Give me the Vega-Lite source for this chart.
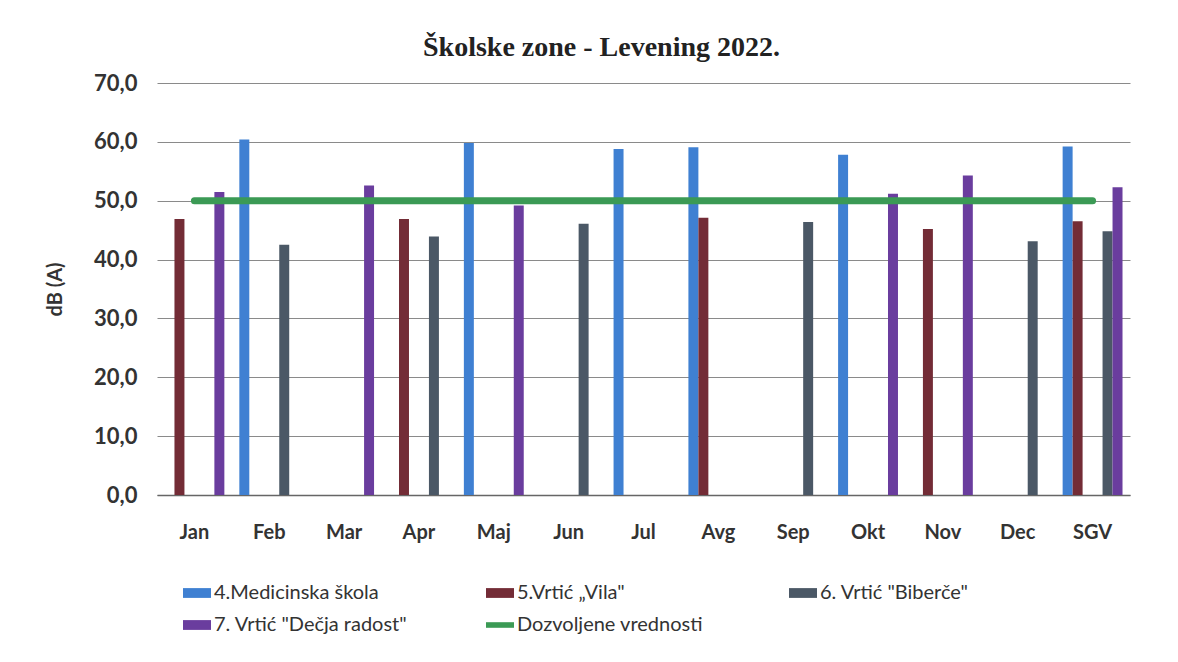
{
  "$schema": "https://vega.github.io/schema/vega-lite/v6.json",
  "autosize": "none",
  "width": 973,
  "height": 412,
  "padding": {"left": 157, "top": 83, "right": 48, "bottom": 167},
  "background": "#ffffff",
  "config": {
    "view": {"stroke": null},
    "font": "Lato"
  },
  "title": {
    "text": "Školske zone - Levening 2022.",
    "font": "Liberation Serif",
    "fontSize": 28,
    "fontWeight": "bold",
    "color": "#222222",
    "anchor": "middle",
    "dx": -42,
    "offset": 10
  },
  "datasets": {
    "bars": [
      {"month": "Jan", "series": "5.Vrtić „Vila\"", "value": 46.9},
      {"month": "Jan", "series": "7. Vrtić \"Dečja radost\"", "value": 51.5},
      {"month": "Feb", "series": "4.Medicinska škola", "value": 60.4},
      {"month": "Feb", "series": "6. Vrtić \"Biberče\"", "value": 42.5},
      {"month": "Mar", "series": "7. Vrtić \"Dečja radost\"", "value": 52.6},
      {"month": "Apr", "series": "5.Vrtić „Vila\"", "value": 46.9},
      {"month": "Apr", "series": "6. Vrtić \"Biberče\"", "value": 43.9},
      {"month": "Maj", "series": "4.Medicinska škola", "value": 59.8},
      {"month": "Maj", "series": "7. Vrtić \"Dečja radost\"", "value": 49.2},
      {"month": "Jun", "series": "6. Vrtić \"Biberče\"", "value": 46.1},
      {"month": "Jul", "series": "4.Medicinska škola", "value": 58.8},
      {"month": "Avg", "series": "4.Medicinska škola", "value": 59.1},
      {"month": "Avg", "series": "5.Vrtić „Vila\"", "value": 47.1},
      {"month": "Sep", "series": "6. Vrtić \"Biberče\"", "value": 46.4},
      {"month": "Okt", "series": "4.Medicinska škola", "value": 57.8},
      {"month": "Okt", "series": "7. Vrtić \"Dečja radost\"", "value": 51.2},
      {"month": "Nov", "series": "5.Vrtić „Vila\"", "value": 45.2},
      {"month": "Nov", "series": "7. Vrtić \"Dečja radost\"", "value": 54.3},
      {"month": "Dec", "series": "6. Vrtić \"Biberče\"", "value": 43.1},
      {"month": "SGV", "series": "4.Medicinska škola", "value": 59.2},
      {"month": "SGV", "series": "5.Vrtić „Vila\"", "value": 46.5},
      {"month": "SGV", "series": "6. Vrtić \"Biberče\"", "value": 44.8},
      {"month": "SGV", "series": "7. Vrtić \"Dečja radost\"", "value": 52.3}
    ],
    "limit": [
      {"month": "Jan", "limit": 50},
      {"month": "Feb", "limit": 50},
      {"month": "Mar", "limit": 50},
      {"month": "Apr", "limit": 50},
      {"month": "Maj", "limit": 50},
      {"month": "Jun", "limit": 50},
      {"month": "Jul", "limit": 50},
      {"month": "Avg", "limit": 50},
      {"month": "Sep", "limit": 50},
      {"month": "Okt", "limit": 50},
      {"month": "Nov", "limit": 50},
      {"month": "Dec", "limit": 50},
      {"month": "SGV", "limit": 50}
    ]
  },
  "layer": [
    {
      "data": {"name": "bars"},
      "mark": {"type": "bar"},
      "encoding": {
        "x": {
          "field": "month",
          "type": "nominal",
          "sort": ["Jan","Feb","Mar","Apr","Maj","Jun","Jul","Avg","Sep","Okt","Nov","Dec","SGV"],
          "scale": {"domain": ["Jan","Feb","Mar","Apr","Maj","Jun","Jul","Avg","Sep","Okt","Nov","Dec","SGV"], "paddingInner": 0.2, "paddingOuter": 0.1},
          "axis": {
            "title": null,
            "labelAngle": 0,
            "labelFont": "Lato",
            "labelFontSize": 20,
            "labelFontWeight": "bold",
            "labelColor": "#333333",
            "labelPadding": 27,
            "ticks": false,
            "domain": true,
            "domainColor": "#666666",
            "domainWidth": 1.5
          }
        },
        "xOffset": {
          "field": "series",
          "type": "nominal",
          "scale": {
            "domain": ["4.Medicinska škola", "5.Vrtić „Vila\"", "_a", "_b", "6. Vrtić \"Biberče\"", "7. Vrtić \"Dečja radost\""],
            "paddingInner": 0,
            "paddingOuter": 0
          }
        },
        "y": {
          "field": "value",
          "type": "quantitative",
          "scale": {"domain": [0, 70], "nice": false},
          "axis": {
            "title": "dB (A)",
            "titleFont": "Lato",
            "titleFontSize": 20,
            "titleFontWeight": "bold",
            "titleColor": "#333333",
            "titlePadding": 28,
            "values": [0, 10, 20, 30, 40, 50, 60, 70],
            "labelExpr": "replace(format(datum.value, '.1f'), '.', ',')",
            "labelFont": "Lato",
            "labelFontSize": 22,
            "labelFontWeight": "bold",
            "labelColor": "#333333",
            "labelPadding": 20,
            "ticks": false,
            "domain": false,
            "grid": true,
            "gridColor": "#8a8a8a",
            "gridWidth": 1.2
          }
        },
        "color": {
          "field": "series",
          "type": "nominal",
          "scale": {
            "domain": ["4.Medicinska škola", "5.Vrtić „Vila\"", "6. Vrtić \"Biberče\"", "7. Vrtić \"Dečja radost\"", "Dozvoljene vrednosti"],
            "range": ["#3f80d2", "#732c36", "#4b5866", "#6a3d9e", "#3b9a55"]
          },
          "legend": {
            "title": null,
            "orient": "none",
            "legendX": 26,
            "legendY": 496,
            "direction": "horizontal",
            "columns": 3,
            "gridAlign": "all",
            "columnPadding": 78,
            "rowPadding": 8,
            "symbolType": "M-1,-0.35H1V0.35H-1Z",
            "symbolSize": 784,
            "symbolStrokeWidth": 0,
            "labelFont": "Lato",
            "labelFontSize": 20,
            "labelColor": "#333333",
            "labelOffset": 3,
            "labelLimit": 300,
            "encode": {
              "symbols": {
                "update": {
                  "shape": {"signal": "datum.value === 'Dozvoljene vrednosti' ? 'M-1,-0.2H1V0.2H-1Z' : 'M-1,-0.35H1V0.35H-1Z'"},
                  "fill": {"scale": "color", "field": "value"},
                  "stroke": {"value": "transparent"},
                  "opacity": {"value": 1}
                }
              }
            }
          }
        }
      }
    },
    {
      "data": {"name": "limit"},
      "mark": {"type": "line", "strokeWidth": 7, "strokeCap": "round"},
      "encoding": {
        "x": {"field": "month", "type": "nominal", "sort": ["Jan","Feb","Mar","Apr","Maj","Jun","Jul","Avg","Sep","Okt","Nov","Dec","SGV"]},
        "y": {"field": "limit", "type": "quantitative"},
        "color": {"datum": "Dozvoljene vrednosti"}
      }
    }
  ]
}
